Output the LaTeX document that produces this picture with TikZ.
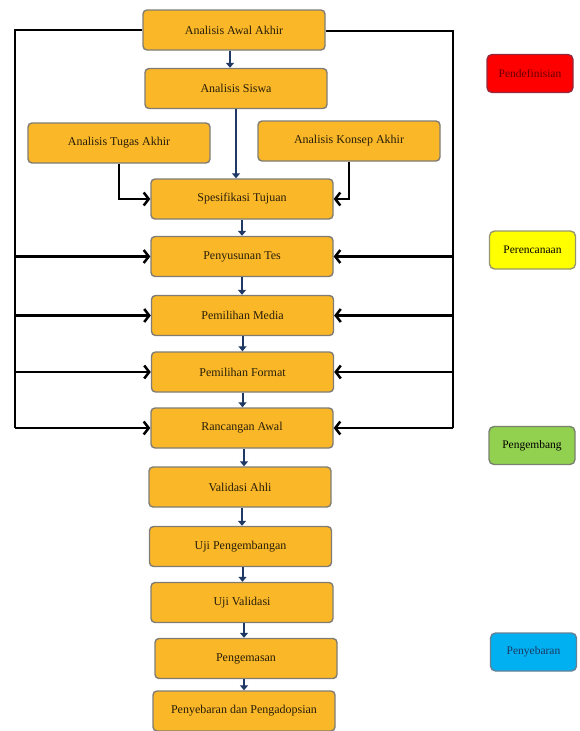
\documentclass[tikz,border=0pt]{standalone}
\usepackage{fontspec}
\setmainfont{Liberation Serif}
\usetikzlibrary{arrows.meta}
\definecolor{boxfill}{RGB}{250,183,40}
\definecolor{boxline}{RGB}{128,124,116}
\definecolor{flowcol}{RGB}{31,56,100}
\definecolor{tagred}{RGB}{255,0,0}
\definecolor{tagredline}{RGB}{150,40,60}
\definecolor{tagyellow}{RGB}{255,255,0}
\definecolor{tagyellowline}{RGB}{150,150,110}
\definecolor{taggreen}{RGB}{146,208,80}
\definecolor{taggreenline}{RGB}{120,130,110}
\definecolor{tagblue}{RGB}{0,176,240}
\definecolor{tagblueline}{RGB}{100,130,150}
\definecolor{txtdark}{RGB}{40,30,10}
\begin{document}
\begin{tikzpicture}[x=1pt,y=-1pt,
  proc/.style={draw=boxline, line width=1.4pt, fill=boxfill, rounded corners=4pt,
    minimum width=182pt, minimum height=40pt, inner sep=0pt,
    font=\fontsize{12}{14}\selectfont, text=txtdark},
  tag/.style={line width=1.4pt, rounded corners=5pt,
    minimum width=86pt, minimum height=38pt, inner sep=0pt,
    font=\fontsize{11.5}{13}\selectfont},
  flow/.style={draw=flowcol, line width=2pt, -{Triangle[length=5pt,width=8pt]}},
  fbline/.style={draw=black, line width=2.5pt},
  fb/.style={draw=black, line width=2.5pt, -{Straight Barb[length=5pt,width=13pt]}}
]
\useasboundingbox (0,0) rectangle (579,731);

% main column
\node[proc] (A1) at (234,30) {Analisis Awal Akhir};
\node[proc] (A2) at (236,88.5) {Analisis Siswa};
\node[proc] (T)  at (119,143) {Analisis Tugas Akhir};
\node[proc] (K)  at (349,141) {Analisis Konsep Akhir};
\node[proc] (S)  at (242,199) {Spesifikasi Tujuan};
\node[proc] (P1) at (242,256.5) {Penyusunan Tes};
\node[proc] (P2) at (242.5,315.5) {Pemilihan Media};
\node[proc] (P3) at (242.5,372) {Pemilihan Format};
\node[proc] (R)  at (242,428) {Rancangan Awal};
\node[proc] (V)  at (240,487) {Validasi Ahli};
\node[proc] (U1) at (240.5,546.5) {Uji Pengembangan};
\node[proc] (U2) at (242,602.5) {Uji Validasi};
\node[proc] (PK) at (246,658.5) {Pengemasan};
\node[proc] (PD) at (244,711) {Penyebaran dan Pengadopsian};

% stage tags
\node[tag, draw=tagredline, fill=tagred, text=black!60!red] (G1) at (530,73.5) {Pendefinisian};
\node[tag, draw=tagyellowline, fill=tagyellow, text=black] (G2) at (532.5,250) {Perencanaan};
\node[tag, draw=taggreenline, fill=taggreen, text=black] (G3) at (532,445.5) {Pengembang};
\node[tag, draw=tagblueline, fill=tagblue, text=flowcol] (G4) at (533.5,652) {Penyebaran};

% central flow
\draw[flow] ([xshift=-4pt]A1.south) -- ([xshift=-4pt]A1.south |- A2.north);
\draw[flow] (A2.south) -- (A2.south |- S.north);
\draw[flow] (S.south) -- (S.south |- P1.north);
\draw[flow] (P1.south) -- (P1.south |- P2.north);
\draw[flow] (P2.south) -- (P2.south |- P3.north);
\draw[flow] (P3.south) -- (P3.south |- R.north);
\draw[flow] ([xshift=2pt]R.south) -- ([xshift=2pt]R.south |- V.north);
\draw[flow] ([xshift=2pt]V.south) -- ([xshift=2pt]V.south |- U1.north);
\draw[flow] ([xshift=2pt]U1.south) -- ([xshift=2pt]U1.south |- U2.north);
\draw[flow] ([xshift=2pt]U2.south) -- ([xshift=2pt]U2.south |- PK.north);
\draw[flow] ([xshift=-2pt]PK.south) -- ([xshift=-2pt]PK.south |- PD.north);

% side analyses
\draw[fb] (T.south) |- (S.west);
\draw[fb] (K.south) |- (S.east);

% feedback brackets
\coordinate (L0) at (15,30);
\coordinate (R0) at (453,31);
\draw[fbline] (A1.west) -- (L0) -- (L0 |- R.west);
\draw[fbline] (A1.east |- R0) -- (R0) -- (R0 |- R.east);
\foreach \n in {P1,P2,P3,R}{
  \draw[fb] (L0 |- \n.west) -- (\n.west);
  \draw[fb] (R0 |- \n.east) -- (\n.east);
}
\end{tikzpicture}
\end{document}
